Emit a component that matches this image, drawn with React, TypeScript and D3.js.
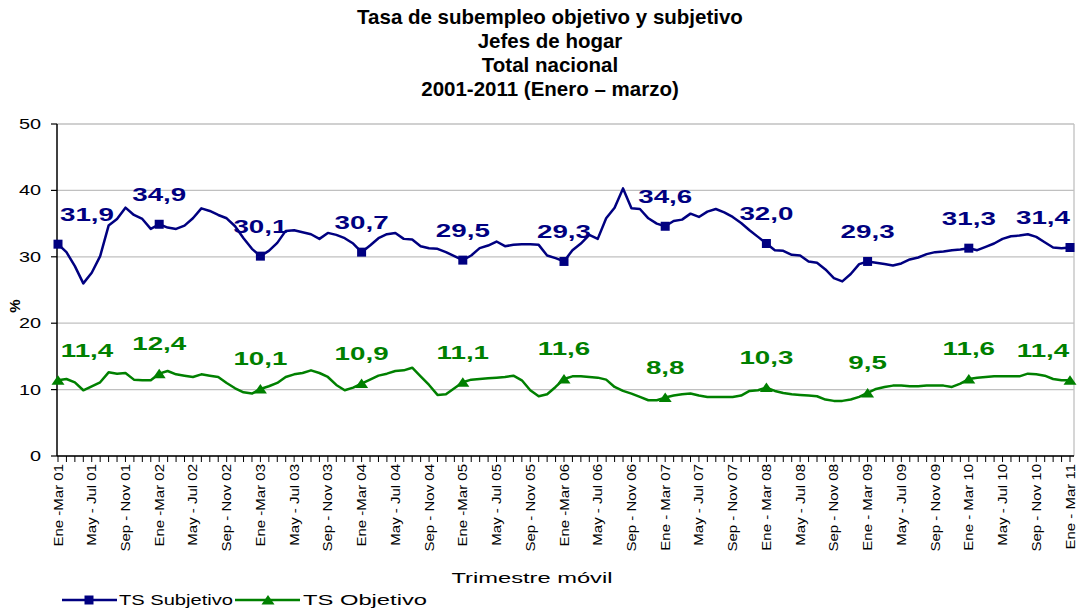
import React from "react";
import * as d3 from "d3";

const subjetivo: number[] = [
  31.9, 30.7, 28.6, 26.0, 27.6, 30.1, 34.7, 35.7, 37.4, 36.3, 35.7, 34.2,
  34.9, 34.4, 34.2, 34.7, 35.8, 37.3, 36.9, 36.3, 35.8, 34.6, 32.8, 31.2,
  30.1, 30.9, 32.1, 33.9, 34.0, 33.7, 33.4, 32.7, 33.6, 33.3, 32.8, 32.0,
  30.7, 31.7, 32.8, 33.4, 33.6, 32.7, 32.6, 31.6, 31.3, 31.2, 30.7, 30.1,
  29.5, 30.2, 31.3, 31.7, 32.3, 31.6, 31.8, 31.9, 31.9, 31.8, 30.2, 29.8,
  29.3, 31.0, 32.0, 33.3, 32.7, 35.8, 37.4, 40.3, 37.3, 37.2, 35.8, 35.0,
  34.6, 35.4, 35.6, 36.5, 36.0, 36.8, 37.2, 36.7, 36.0, 35.1, 34.0, 33.0,
  32.0, 31.0, 30.9, 30.3, 30.2, 29.3, 29.1, 28.1, 26.8, 26.3, 27.4, 28.9,
  29.3, 29.1, 28.9, 28.7, 29.0, 29.6, 29.9, 30.4, 30.7, 30.8, 31.0, 31.1,
  31.3, 31.0, 31.5, 32.0, 32.7, 33.1, 33.2, 33.4, 33.0, 32.2, 31.4, 31.3,
  31.4,
];

const objetivo: number[] = [
  11.4, 11.6, 11.1, 9.9, 10.5, 11.1, 12.6, 12.4, 12.5, 11.5, 11.4, 11.4,
  12.4, 12.8, 12.3, 12.1, 11.9, 12.3, 12.1, 11.9, 11.0, 10.2, 9.6, 9.4,
  10.1, 10.5, 11.0, 11.9, 12.3, 12.5, 12.9, 12.5, 11.9, 10.7, 9.9, 10.3,
  10.9, 11.5, 12.1, 12.4, 12.8, 12.9, 13.3, 12.0, 10.7, 9.2, 9.3, 10.2,
  11.1, 11.5, 11.6, 11.7, 11.8, 11.9, 12.1, 11.4, 9.9, 9.0, 9.3, 10.4,
  11.6, 12.0, 12.0, 11.9, 11.8, 11.5, 10.4, 9.8, 9.4, 8.9, 8.4, 8.4,
  8.8, 9.1, 9.3, 9.4, 9.1, 8.9, 8.9, 8.9, 8.9, 9.1, 9.8, 9.9,
  10.3, 9.8, 9.5, 9.3, 9.2, 9.1, 9.0, 8.5, 8.3, 8.3, 8.5, 8.9,
  9.5, 10.1, 10.4, 10.6, 10.6, 10.5, 10.5, 10.6, 10.6, 10.6, 10.4, 10.9,
  11.6, 11.8, 11.9, 12.0, 12.0, 12.0, 12.0, 12.4, 12.3, 12.1, 11.6, 11.4,
  11.4,
];

const tickLabels: string[] = [
  "Ene -Mar 01", "May - Jul 01", "Sep - Nov 01",
  "Ene -Mar 02", "May - Jul 02", "Sep - Nov 02",
  "Ene -Mar 03", "May - Jul 03", "Sep - Nov 03",
  "Ene -Mar 04", "May - Jul 04", "Sep - Nov 04",
  "Ene -Mar 05", "May - Jul 05", "Sep - Nov 05",
  "Ene -Mar 06", "May - Jul 06", "Sep - Nov 06",
  "Ene - Mar 07", "May - Jul 07", "Sep - Nov 07",
  "Ene - Mar 08", "May - Jul 08", "Sep - Nov 08",
  "Ene - Mar 09", "May - Jul 09", "Sep - Nov 09",
  "Ene - Mar 10", "May - Jul 10", "Sep - Nov 10",
  "Ene - Mar 11",
];

const titleLines: string[] = [
  "Tasa de subempleo objetivo y subjetivo",
  "Jefes de hogar",
  "Total nacional",
  "2001-2011 (Enero \u2013 marzo)",
];

const seriesNames = ["TS Subjetivo", "TS Objetivo"];

const W = 1082;
const H = 611;
const plot = { left: 57, right: 1074, top: 124, bottom: 456 };
const BLUE = "#000080";
const GREEN = "#008000";
const FONT = "'Liberation Sans', Arial, Helvetica, sans-serif";
const LABEL_EVERY = 4;
const MARK_EVERY = 12;

const x = d3.scaleLinear().domain([0, subjetivo.length - 1]).range([58, 1070]);
const y = d3.scaleLinear().domain([0, 50]).range([plot.bottom, plot.top]);

const lineGen = d3
  .line<number>()
  .x((_, i) => x(i))
  .y((d) => y(d));

const fmt = (v: number) => d3.format(".1f")(v).replace(".", ",");

const LABEL_FS = 18.5;
const LABEL_SX = 1.5;
const labelWidth = (s: string) => {
  let w = 0;
  for (const c of s) w += c === "," ? 0.278 : 0.556;
  return w * LABEL_FS * LABEL_SX;
};

const squarePath = "M-4.5,-4.5H4.5V4.5H-4.5Z";
const triPath = "M0,-5L6.5,4.5L-6.5,4.5Z";

function DataLabels({ data, color }: { data: number[]; color: string }) {
  const items = data
    .map((v, i) => ({ v, i }))
    .filter((d) => d.i % MARK_EVERY === 0);
  return (
    <g>
      {items.map(({ v, i }) => {
        const s = fmt(v);
        const w = labelWidth(s);
        const cx = Math.max(
          plot.left + 3 + w / 2,
          Math.min(plot.right - 4 - w / 2, x(i))
        );
        const cy = y(v) - 30 + 6.5;
        return (
          <text
            key={i}
            transform={`translate(${cx},${cy}) scale(${LABEL_SX},1)`}
            textAnchor="middle"
            fontSize={LABEL_FS}
            fontWeight="bold"
            fill={color}
            fontFamily={FONT}
          >
            {s}
          </text>
        );
      })}
    </g>
  );
}

export default function App() {
  const yTicks = y.ticks(5);
  const n = subjetivo.length;
  return (
    <svg
      width={W}
      height={H}
      style={{ position: "absolute", left: 0, top: 0, background: "#fff" }}
      fontFamily={FONT}
    >
      <rect x={0} y={0} width={W} height={H} fill="#fff" />
      {titleLines.map((t, i) => (
        <text
          key={t}
          x={550}
          y={24 + i * 24}
          textAnchor="middle"
          fontSize={20.5}
          fontWeight="bold"
          fill="#000"
        >
          {t}
        </text>
      ))}

      {yTicks.map((t) => (
        <line
          key={t}
          x1={plot.left}
          x2={plot.right}
          y1={y(t)}
          y2={y(t)}
          stroke="#c0c0c0"
          strokeWidth={1.3}
        />
      ))}
      <line
        x1={plot.right}
        x2={plot.right}
        y1={plot.top}
        y2={plot.bottom}
        stroke="#c0c0c0"
        strokeWidth={1.3}
      />

      <line x1={plot.left} x2={plot.left} y1={plot.top} y2={plot.bottom} stroke="#000" strokeWidth={1.5} />
      {yTicks.map((t) => (
        <g key={t}>
          <line x1={plot.left - 6} x2={plot.left} y1={y(t)} y2={y(t)} stroke="#000" strokeWidth={1.2} />
          <text
            transform={`translate(41,${y(t) + 5}) scale(1.42,1)`}
            textAnchor="end"
            fontSize={14}
            fill="#000"
          >
            {t}
          </text>
        </g>
      ))}
      <text
        transform={`translate(20,306) rotate(-90)`}
        textAnchor="middle"
        fontSize={15}
        fontWeight="bold"
        fill="#000"
      >
        %
      </text>

      <line x1={plot.left} x2={plot.right} y1={plot.bottom} y2={plot.bottom} stroke="#000" strokeWidth={1.5} />
      {d3.range(n).map((i) => (
        <line key={i} x1={x(i)} x2={x(i)} y1={plot.bottom} y2={plot.bottom + 6} stroke="#000" strokeWidth={1} />
      ))}
      {tickLabels.map((t, k) => (
        <text
          key={t}
          transform={`translate(${x(k * LABEL_EVERY) + 4.5},464) rotate(-90) scale(1.25,1)`}
          textAnchor="end"
          fontSize={12}
          fill="#000"
        >
          {t}
        </text>
      ))}
      <text x={532} y={583} textAnchor="middle" fontSize={14} textLength={161} lengthAdjust="spacingAndGlyphs" fill="#000">
        Trimestre móvil
      </text>

      <path d={lineGen(subjetivo) || ""} fill="none" stroke={BLUE} strokeWidth={2.5} strokeLinejoin="round" />
      <path d={lineGen(objetivo) || ""} fill="none" stroke={GREEN} strokeWidth={2.5} strokeLinejoin="round" />
      {subjetivo.map((v, i) =>
        i % MARK_EVERY === 0 ? (
          <path key={i} d={squarePath} transform={`translate(${x(i)},${y(v)})`} fill={BLUE} />
        ) : null
      )}
      {objetivo.map((v, i) =>
        i % MARK_EVERY === 0 ? (
          <path key={i} d={triPath} transform={`translate(${x(i)},${y(v)})`} fill={GREEN} />
        ) : null
      )}
      <DataLabels data={subjetivo} color={BLUE} />
      <DataLabels data={objetivo} color={GREEN} />

      <g>
        <line x1={62} x2={117} y1={600} y2={600} stroke={BLUE} strokeWidth={2.5} />
        <path d={squarePath} transform="translate(89,600)" fill={BLUE} />
        <text x={119} y={605} fontSize={14} textLength={114} lengthAdjust="spacingAndGlyphs" fill="#000">
          {seriesNames[0]}
        </text>
        <line x1={235} x2={300} y1={600} y2={600} stroke={GREEN} strokeWidth={2.5} />
        <path d={triPath} transform="translate(268,600)" fill={GREEN} />
        <text x={303} y={605} fontSize={14} textLength={124} lengthAdjust="spacingAndGlyphs" fill="#000">
          {seriesNames[1]}
        </text>
      </g>
    </svg>
  );
}
